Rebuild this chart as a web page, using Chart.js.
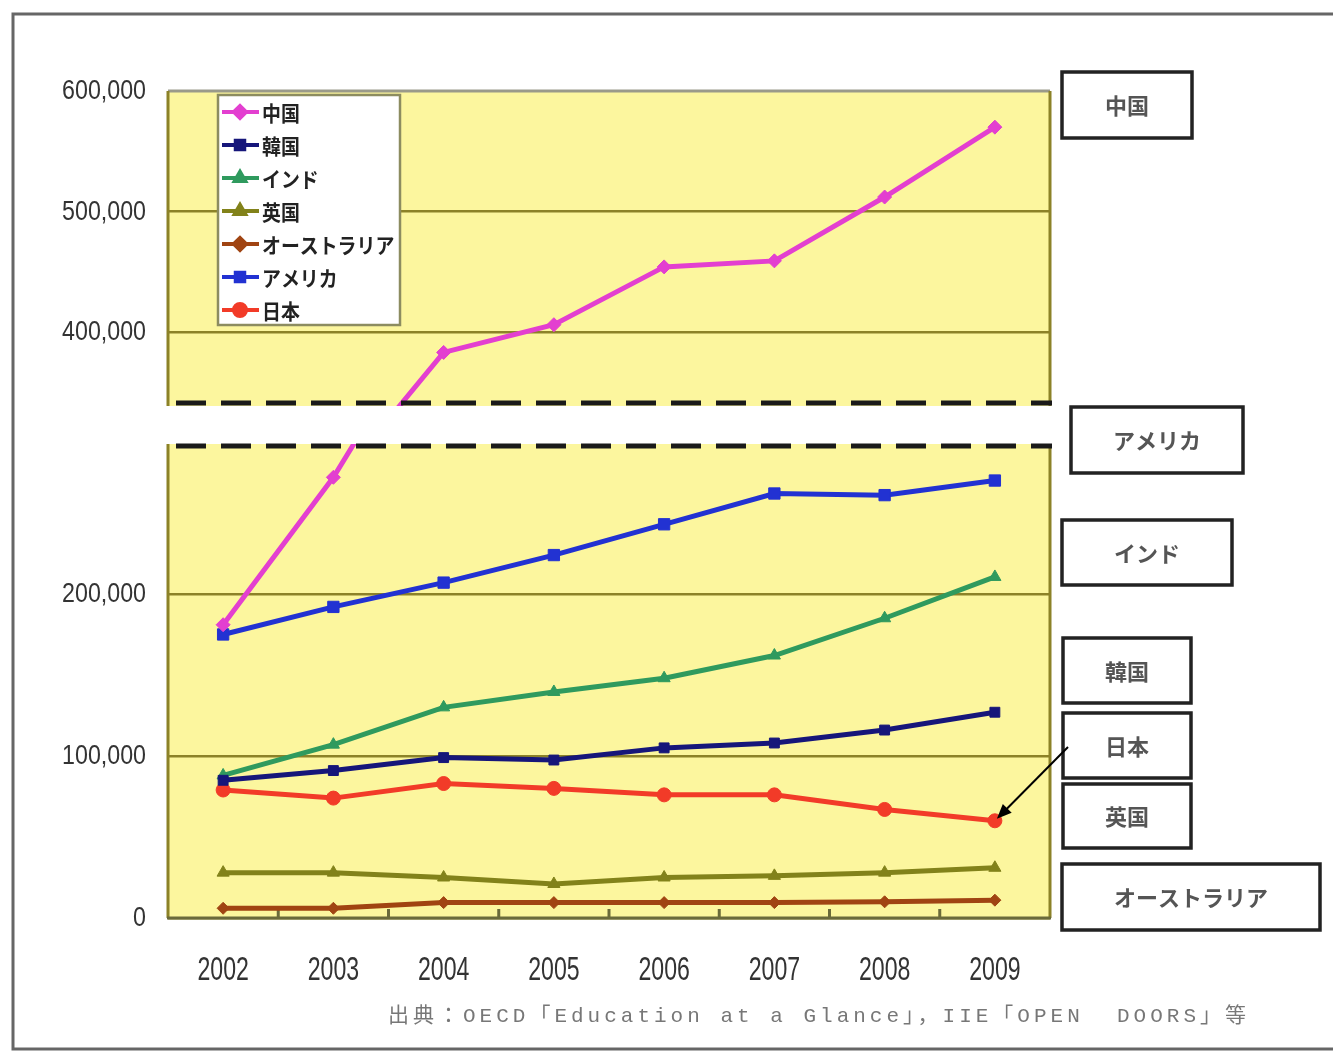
<!DOCTYPE html>
<html lang="ja">
<head>
<meta charset="utf-8">
<title>留学生数の推移</title>
<script src="https://cdn.jsdelivr.net/npm/chart.js@4.4.1/dist/chart.umd.min.js"></script>
<style>
  html, body { margin: 0; padding: 0; background: #fff; }
  #wrap { width: 1333px; height: 1052px; position: relative; }
</style>
</head>
<body>
<div id="wrap"><canvas id="chart"></canvas></div>
<script>
// data
const years = ["2002", "2003", "2004", "2005", "2006", "2007", "2008", "2009"];
const china = [181000, 272000, 383000, 406000, 454000, 459000, 512000, 570000];
const korea = [85000, 91000, 99000, 97500, 105000, 108000, 116000, 127000];
const india = [88000, 107000, 130000, 139500, 148000, 162000, 185000, 210500];
const uk = [28000, 28000, 25000, 21000, 25000, 26000, 28000, 31000];
const australia = [6000, 6000, 9500, 9500, 9500, 9500, 10000, 11000];
const america = [175000, 192000, 207000, 224000, 243000, 262000, 261000, 270000];
const japan = [79000, 74000, 83000, 80000, 76000, 76000, 67000, 60000];
const lowTicks = [0, 100000, 200000];
const highTicks = [400000, 500000, 600000];
const sideLabels = ["中国", "アメリカ", "インド", "韓国", "日本", "英国", "オーストラリア"];
const source = "出典：OECD「Education at a Glance」，IIE「OPEN  DOORS」等";

const series = [
  { label: "中国", data: china, color: "#e33fd0", style: "rectRot", r: 7 },
  { label: "韓国", data: korea, color: "#16167a", style: "rect", r: 7 },
  { label: "インド", data: india, color: "#2f9a5e", style: "triangle", r: 7 },
  { label: "英国", data: uk, color: "#82821a", style: "triangle", r: 7 },
  { label: "オーストラリア", data: australia, color: "#a04412", style: "rectRot", r: 6 },
  { label: "アメリカ", data: america, color: "#2232d2", style: "rect", r: 8 },
  { label: "日本", data: japan, color: "#f23b28", style: "circle", r: 7 },
];

const ds = (s, axis) => ({
  label: s.label,
  data: s.data,
  yAxisID: axis,
  borderColor: s.color,
  backgroundColor: s.color,
  borderWidth: 5,
  pointStyle: s.style,
  pointRadius: s.r,
  pointBorderWidth: 1,
  tension: 0,
});

const datasets = [ds(series[0], "yLow"), ds(series[0], "yHigh")];
series.slice(1).forEach((s) => datasets.push(ds(s, "yLow")));

const GRID = "#8c8228";
const fmt = (v) => v.toLocaleString("en-US");

// each dataset only shows inside its own panel
const clipPanels = {
  id: "clipPanels",
  beforeDatasetDraw(chart, args) {
    const s = args.meta.yScale, a = chart.chartArea, ctx = chart.ctx;
    ctx.save();
    ctx.beginPath();
    ctx.rect(a.left - 20, s.top, a.right - a.left + 40, s.bottom - s.top);
    ctx.clip();
  },
  afterDatasetDraw(chart) {
    chart.ctx.restore();
  },
};

// text in a squeezed face, like the narrow font of the original
function squeezed(ctx, text, x, y, sx, align) {
  ctx.save();
  ctx.translate(x, y);
  ctx.scale(sx, 1);
  ctx.textAlign = align;
  ctx.fillText(text, 0, 0);
  ctx.restore();
}

const tickText = {
  id: "tickText",
  afterDraw(chart) {
    const ctx = chart.ctx;
    ctx.save();
    ctx.fillStyle = "#333";
    ctx.textBaseline = "middle";
    ctx.font = "27px 'Liberation Sans', sans-serif";
    ["yLow", "yHigh"].forEach((id) => {
      const sc = chart.scales[id];
      sc.ticks.forEach((t) => {
        squeezed(ctx, fmt(t.value), sc.right - 22, sc.getPixelForValue(t.value) + 1, 0.86, "right");
      });
    });
    const xs = chart.scales.x;
    ctx.font = "34px 'Liberation Sans', sans-serif";
    years.forEach((y, i) => {
      squeezed(ctx, y, xs.getPixelForTick(i), 971, 0.68, "center");
    });
    ctx.restore();
  },
};

const frame = {
  id: "frame",
  beforeDraw(chart) {
    const { ctx, chartArea: a } = chart;
    ctx.save();
    ctx.fillStyle = "#fff";
    ctx.fillRect(0, 0, chart.width, chart.height);
    ctx.fillStyle = "#fcf69e";
    ctx.fillRect(a.left, a.top, a.right - a.left, a.bottom - a.top);
    ctx.restore();
  },
  beforeDatasetsDraw(chart) {
    const { ctx, chartArea: a } = chart;
    ctx.save();
    ctx.lineWidth = 3;
    ctx.strokeStyle = "#9a9a8a";
    ctx.beginPath();
    ctx.moveTo(a.left, a.top);
    ctx.lineTo(a.right, a.top);
    ctx.stroke();
    ctx.strokeStyle = GRID;
    ctx.beginPath();
    ctx.moveTo(a.left, a.top);
    ctx.lineTo(a.left, a.bottom);
    ctx.moveTo(a.right, a.top);
    ctx.lineTo(a.right, a.bottom);
    ctx.stroke();
    ctx.strokeStyle = "#6a6a3a";
    ctx.beginPath();
    ctx.moveTo(a.left - 1, a.bottom);
    ctx.lineTo(a.right + 1, a.bottom);
    const step = (a.right - a.left) / years.length;
    for (let i = 1; i < years.length; i++) {
      const x = a.left + i * step;
      ctx.moveTo(x, a.bottom);
      ctx.lineTo(x, a.bottom - 9);
    }
    ctx.stroke();
    ctx.restore();
  },
  afterDatasetsDraw(chart) {
    const { ctx, chartArea: a } = chart;
    const cut = chart.scales.yHigh.bottom;
    ctx.save();
    ctx.fillStyle = "#fff";
    ctx.fillRect(a.left - 20, cut - 18, a.right - a.left + 30, 38);
    ctx.strokeStyle = "#1a1a1a";
    ctx.lineWidth = 5;
    ctx.setLineDash([30, 15]);
    [cut - 21, cut + 22].forEach((y) => {
      ctx.beginPath();
      ctx.moveTo(a.left + 8, y);
      ctx.lineTo(a.right + 2, y);
      ctx.stroke();
    });
    ctx.restore();
  },
  afterDraw(chart) {
    const ctx = chart.ctx;
    ctx.save();
    // legend
    ctx.fillStyle = "#fff";
    ctx.strokeStyle = "#8c8c60";
    ctx.lineWidth = 2.5;
    ctx.fillRect(218, 95, 182, 230);
    ctx.strokeRect(218, 95, 182, 230);
    ctx.font = "bold 21px 'Noto Sans CJK JP'";
    ctx.textBaseline = "middle";
    series.forEach((s, i) => {
      const y = 112 + i * 33;
      ctx.strokeStyle = s.color;
      ctx.fillStyle = s.color;
      ctx.lineWidth = 4;
      ctx.beginPath();
      ctx.moveTo(222, y);
      ctx.lineTo(259, y);
      ctx.stroke();
      Chart.helpers.drawPoint(ctx, { pointStyle: s.style, radius: 6, rotation: 0, borderWidth: 1 }, 240, y);
      ctx.fillStyle = "#222";
      squeezed(ctx, s.label, 262, y + 1, 0.9, "left");
    });

    // side labels
    const boxes = [
      [1062, 72, 130, 66], [1071, 407, 172, 66], [1062, 520, 170, 65],
      [1063, 638, 128, 65], [1063, 713, 128, 65], [1063, 784, 128, 64],
      [1062, 864, 258, 66],
    ];
    ctx.font = "bold 22px 'Noto Sans CJK JP'";
    ctx.textAlign = "center";
    boxes.forEach(([x, y, w, h], i) => {
      ctx.fillStyle = "#fff";
      ctx.fillRect(x, y, w, h);
      ctx.strokeStyle = "#222";
      ctx.lineWidth = 3.5;
      ctx.strokeRect(x, y, w, h);
      ctx.fillStyle = "#555";
      ctx.fillText(sideLabels[i], x + w / 2, y + h / 2 + 1);
    });

    // arrow to the last 日本 point
    const jp = chart.getDatasetMeta(datasets.length - 1).data[years.length - 1];
    const x0 = 1068, y0 = 747, x1 = jp.x + 2, y1 = jp.y - 2;
    const ang = Math.atan2(y1 - y0, x1 - x0);
    ctx.strokeStyle = "#000";
    ctx.fillStyle = "#000";
    ctx.lineWidth = 2;
    ctx.beginPath();
    ctx.moveTo(x0, y0);
    ctx.lineTo(x1 - 10 * Math.cos(ang), y1 - 10 * Math.sin(ang));
    ctx.stroke();
    ctx.beginPath();
    ctx.moveTo(x1, y1);
    ctx.lineTo(x1 - 16 * Math.cos(ang - 0.4), y1 - 16 * Math.sin(ang - 0.4));
    ctx.lineTo(x1 - 16 * Math.cos(ang + 0.4), y1 - 16 * Math.sin(ang + 0.4));
    ctx.closePath();
    ctx.fill();

    // source note
    ctx.textAlign = "left";
    ctx.fillStyle = "#777";
    ctx.font = "21px 'Liberation Mono', 'Noto Sans CJK JP'";
    ctx.letterSpacing = "4px";
    ctx.fillText(source, 388, 1016);
    ctx.letterSpacing = "0px";

    // outer frame
    ctx.strokeStyle = "#666";
    ctx.lineWidth = 3;
    ctx.strokeRect(13, 14, 1340, 1035);
    ctx.restore();
  },
};

new Chart(document.getElementById("chart"), {
  type: "line",
  data: { labels: years, datasets },
  options: {
    responsive: true,
    maintainAspectRatio: false,
    animation: false,
    layout: { padding: { top: 91, left: 18, right: 283, bottom: 64 } },
    plugins: { legend: { display: false }, tooltip: { enabled: false } },
    scales: {
      x: {
        offset: true,
        grid: { display: false },
        border: { display: false },
        ticks: { display: false },
        afterFit: (s) => { s.height = 70; },
      },
      yLow: {
        position: "left",
        stack: "y",
        stackWeight: 494,
        min: 0,
        max: 304900,
        border: { display: false },
        grid: { color: GRID, lineWidth: 2.5, drawTicks: false },
        ticks: { display: false },
        afterBuildTicks: (s) => { s.ticks = lowTicks.map((v) => ({ value: v })); },
        afterFit: (s) => { s.width = 150; },
      },
      yHigh: {
        position: "left",
        stack: "y",
        stackWeight: 333,
        min: 323600,
        max: 600000,
        border: { display: false },
        grid: { color: (c) => (c.tick && c.tick.value === 600000 ? "rgba(0,0,0,0)" : GRID), lineWidth: 2.5, drawTicks: false },
        ticks: { display: false },
        afterBuildTicks: (s) => { s.ticks = highTicks.map((v) => ({ value: v })); },
        afterFit: (s) => { s.width = 150; },
      },
    },
  },
  plugins: [clipPanels, frame, tickText],
});
</script>
</body>
</html>
